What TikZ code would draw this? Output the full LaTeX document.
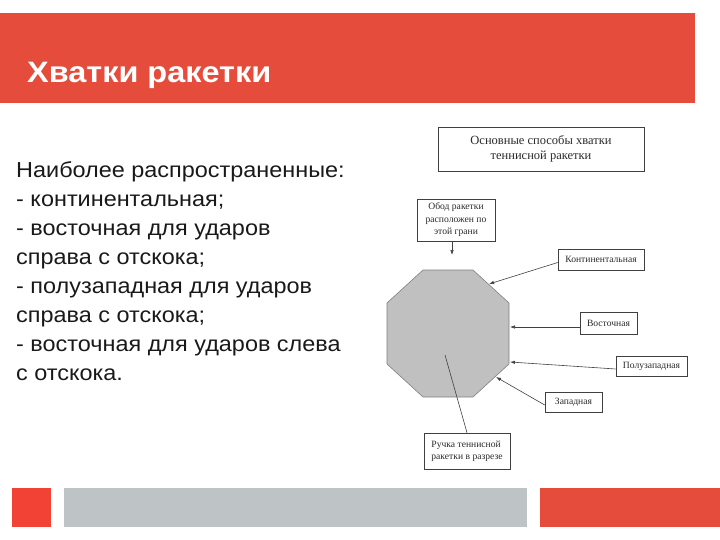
\documentclass[tikz,border=0pt]{standalone}
\usepackage{fontspec}
\setmainfont{Liberation Sans}
\newfontfamily\listfont{Liberation Sans}[FakeStretch=1.08]
\newfontfamily\titlefont{Liberation Sans}[FakeStretch=1.1]
\newfontfamily\diagfont{Liberation Serif}
\usetikzlibrary{arrows.meta}
\definecolor{barred}{HTML}{E64C3C}
\definecolor{sqred}{HTML}{F24236}
\definecolor{bargray}{HTML}{BEC3C6}
\definecolor{octfill}{HTML}{C0C0C0}
\definecolor{octline}{HTML}{7F7F7F}
\definecolor{dtext}{HTML}{2A2A2A}
\tikzset{
  dbox/.style={draw=black!75, line width=0.6pt, fill=white, inner sep=1pt,
    font=\diagfont\fontsize{9.6}{12.5}\selectfont, text=dtext},
  conn/.style={draw=black!75, line width=0.6pt},
  arr/.style={conn, -{Latex[length=5pt,width=3.5pt]}},
}
\begin{document}
\begin{tikzpicture}[x=1pt,y=-1pt]
\useasboundingbox (0,0) rectangle (720,540);
% header bar
\fill[barred] (0,13) rectangle (695,103);
\node[anchor=base west, inner sep=0, text=white, font=\titlefont\bfseries\fontsize{29.5}{35}\selectfont] (title) at (27,83) {Хватки ракетки};
% footer bars
\fill[sqred] (12,488) rectangle (51,527);
\fill[bargray] (64,488) rectangle (527,527);
\fill[barred] (540,488) rectangle (720,527);
% left text
\node[anchor=north west, inner sep=0, align=left, font=\listfont\fontsize{21.7}{29}\selectfont, text=black!90] (list) at (16,161)
{Наиболее распространенные:\\
- континентальная;\\
- восточная для ударов\\
справа с отскока;\\
- полузападная для ударов\\
справа с отскока;\\
- восточная для ударов слева\\
с отскока.};
% diagram
\node[dbox, minimum width=206pt, minimum height=44pt, align=center, font=\diagfont\fontsize{12.5}{15}\selectfont] (head) at (541,149)
{Основные способы хватки\\ теннисной ракетки};
\draw[fill=octfill, draw=octline, line width=0.6pt] (423,270) -- (473,270) -- (509,303) -- (509,364) -- (473,397) -- (423,397) -- (387,364) -- (387,303) -- cycle;
\coordinate (oa) at (452,255);
\coordinate (kc) at (489,284);
\coordinate (vc) at (510,327);
\coordinate (pc) at (510,362);
\coordinate (zc) at (496,377);
\coordinate (rc) at (445,355);
\node[dbox, minimum width=78pt, minimum height=42pt, align=center] (obod) at (456,220)
{Обод ракетки\\ расположен по\\ этой грани};
\node[dbox, minimum width=86pt, minimum height=21pt] (kont) at (601,259.5) {Континентальная};
\node[dbox, minimum width=57pt, minimum height=22pt] (vost) at (608.5,323) {Восточная};
\node[dbox, minimum width=71pt, minimum height=20pt] (polu) at (651.5,366) {Полузападная};
\node[dbox, minimum width=57pt, minimum height=20pt] (zap) at (573.5,402) {Западная};
\node[dbox, minimum width=86pt, minimum height=36pt, align=left] (ruch) at (467,451)
{Ручка теннисной\\ ракетки в разрезе};
\draw[arr] (obod.south -| oa) -- (oa);
\draw[arr] ([yshift=-3pt]kont.west) -- (kc);
\draw[arr] ([yshift=-4pt]vost.west) -- (vc);
\draw[arr] ([yshift=-3pt]polu.west) -- (pc);
\draw[arr] ([yshift=-3pt]zap.west) -- (zc);
\draw[conn] (ruch.north) -- (rc);
\end{tikzpicture}
\end{document}
